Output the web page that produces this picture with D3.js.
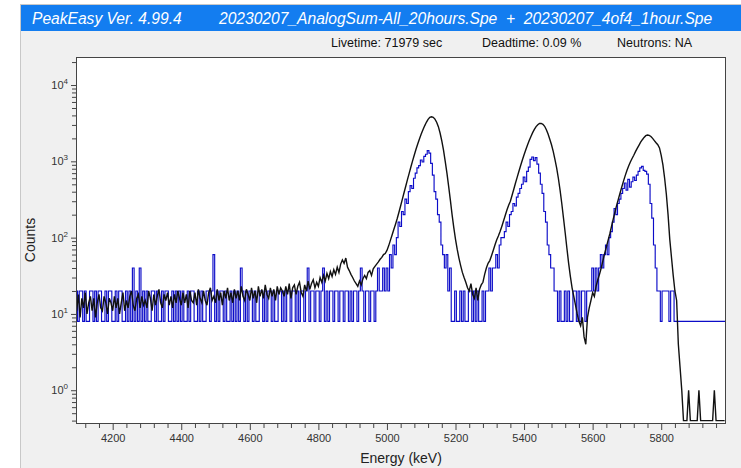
<!DOCTYPE html>
<head>
<meta charset="utf-8">
<title>PeakEasy spectrum</title>
<script type="text/javascript" src="https://d3js.org/d3.v7.min.js"></script>
<style>
  body { margin: 0; background: #fff; }
  svg { display: block; font-family: "Liberation Sans", Arial, sans-serif; }
</style>
</head>
<body>
<div id="container"></div>
<script>
//---------------------------DATA----------------------------//
// bins of 5 keV, first bin centred on 4095 keV
const eStart = 4095, eStep = 5;

// 20 hour sum spectrum, counts per bin (one row = 100 keV)
const blackCounts = [
  11,18,9,16,12,19,10,14,17,11,16,9,14,18,12,11,17,14,10,16,
  14,11,17,12,16,10,14,19,11,15,12,17,20,13,11,16,18,12,17,13,
  15,12,20,16,11,18,13,17,21,14,12,18,15,19,13,17,12,18,14,20,
  16,13,19,14,18,12,20,15,14,19,13,21,16,14,20,15,13,19,22,15,
  17,14,21,15,19,13,20,16,22,15,19,14,21,16,20,15,23,17,15,21,
  18,15,22,16,20,14,23,17,21,16,24,18,16,22,17,21,15,23,18,22,
  20,17,23,18,25,16,22,24,18,23,26,19,17,24,20,27,21,25,28,22,
  26,23,30,26,32,27,34,29,36,31,38,33,41,35,45,51,46,54,41,37,
  33,30,27,25,23,27,24,29,32,29,35,37,32,39,42,45,48,52,55,60,
  62,68,78,92,108,128,150,178,215,262,320,390,475,580,700,850,1020,1220,1450,1700,
  1980,2280,2600,2920,3250,3550,3780,3840,3780,3580,3250,2850,2350,1850,1400,1000,700,470,310,200,
  135,95,70,54,43,35,30,26,22,20,25,18,16,22,15,21,24,26,33,40,
  46,50,58,68,80,93,105,120,140,165,195,230,265,300,360,430,520,620,740,880,
  1040,1220,1420,1640,1870,2120,2380,2620,2850,3020,3130,3140,3060,2880,2600,2280,1950,1650,1350,1060,
  820,600,420,280,180,115,72,46,31,22,17,13,10,8,7,9,5,4,9,12,
  15,19,17,23,28,33,40,50,62,75,92,112,140,175,215,265,320,385,460,550,
  650,760,870,980,1090,1200,1340,1480,1620,1780,1920,2060,2170,2210,2190,2120,2000,1870,1750,1650,
  1500,1200,900,600,370,200,95,55,32,20,15,4,2,1,0,0,0,1,0,0,
  0,0,0,1,0,0,0,0,0,0,0,0,1,0,0,0,0,0,0
];

// 1 hour spectrum (4of4), raw counts per bin
const blueCounts = [
  1,0,1,1,0,1,0,0,1,1,0,1,0,1,1,0,0,1,0,1,
  1,0,0,1,0,1,1,0,0,1,0,1,0,2,0,1,0,2,0,1,
  0,1,0,0,1,1,0,1,0,0,1,0,1,1,0,0,1,0,1,0,
  1,0,1,0,0,1,0,1,1,0,0,1,0,1,0,0,1,1,0,1,
  3,0,1,0,1,1,0,1,0,0,1,0,1,0,1,0,2,1,0,1,
  0,1,1,0,1,0,0,1,1,0,1,0,1,1,0,1,0,0,1,1,
  0,1,0,1,1,0,1,1,0,1,0,1,1,0,1,2,0,1,1,0,
  1,1,0,1,2,0,1,0,1,1,0,1,1,0,1,1,0,1,1,0,
  1,0,1,1,0,1,2,1,0,1,1,0,1,1,0,1,2,1,1,2,
  1,2,1,3,2,4,3,5,8,7,11,10,16,14,20,24,22,30,35,41,
  44,52,49,58,62,69,64,47,33,20,16,10,8,4,3,2,3,1,2,0,
  0,1,0,0,1,0,1,0,0,1,1,0,1,0,1,0,0,1,0,1,
  1,2,1,2,2,3,2,4,5,5,6,8,7,10,11,14,13,17,19,22,
  25,31,27,37,42,53,57,51,56,46,35,25,19,11,8,4,3,2,2,1,
  1,0,1,0,0,1,0,1,0,0,1,1,0,1,0,1,1,0,1,1,
  1,2,1,2,1,2,3,2,3,4,3,5,6,8,12,10,14,16,19,22,
  26,21,29,23,27,31,28,33,37,41,43,38,37,34,25,14,9,4,2,1,
  1,0,1,1,1,1,0,1,1,0,0,0,0,0,0,0,0,0,0,0,
  0,0,0,0,0,0,0,0,0,0,0,0,0,0,0,0,0,0,0
];

const blueScale = 20;     // 1 hour spectrum scaled to the 20 hour one
const zeroLevel = 0.4;    // empty bins are drawn at this level

const xMajor = [4200, 4400, 4600, 4800, 5000, 5200, 5400, 5600, 5800];
const yDecades = [1, 10, 100, 1000, 10000];

const titleLeft = "PeakEasy Ver. 4.99.4";
const titleRight = "20230207_AnalogSum-All_20hours.Spe  +  20230207_4of4_1hour.Spe";
const infoItems = [
  {x: 331, text: "Livetime: 71979 sec"},
  {x: 482, text: "Deadtime: 0.09 %"},
  {x: 617, text: "Neutrons: NA"}
];

//---------------------------SVG-----------------------------//
const W = 741, H = 468;
const margin = {top: 57, left: 76, right: 15, bottom: 45};
const width = W - margin.left - margin.right,
      height = H - margin.top - margin.bottom;

const svg = d3.select("#container").append("svg")
    .attr("width", W)
    .attr("height", H);

// window background + title bar
svg.append("rect")
    .attr("x", 20.5).attr("y", 4.5)
    .attr("width", W - 20).attr("height", H)
    .attr("fill", "#f0f0f0")
    .attr("stroke", "#c8c8c8");

svg.append("rect")
    .attr("x", 21).attr("y", 5)
    .attr("width", W - 21).attr("height", 26)
    .attr("fill", "#137df0");

svg.append("text")
    .attr("x", 32).attr("y", 24)
    .attr("fill", "#fff")
    .attr("font-size", 15.6)
    .attr("font-style", "italic")
    .text(titleLeft);

svg.append("text")
    .attr("x", 219).attr("y", 24)
    .attr("fill", "#fff")
    .attr("font-size", 15.6)
    .attr("font-style", "italic")
    .style("white-space", "pre")
    .text(titleRight);

svg.selectAll(".info")
    .data(infoItems)
    .enter().append("text")
    .attr("class", "info")
    .attr("x", d => d.x).attr("y", 47)
    .attr("font-size", 12.5)
    .attr("fill", "#111")
    .text(d => d.text);

const g = svg.append("g")
    .attr("transform", "translate(" + margin.left + "," + margin.top + ")");

//--------------------------SCALES---------------------------//
const x = d3.scaleLinear().domain([4093, 5989]).range([0, width]);
const y = d3.scaleLog().domain([0.372, 23300]).range([height, 0]);

g.append("rect")
    .attr("width", width).attr("height", height)
    .attr("fill", "#fff");

g.append("clipPath").attr("id", "plotclip")
  .append("rect")
    .attr("width", width).attr("height", height);

//---------------------------LINES---------------------------//
const edges = blueCounts.map((c, i) => ({
    e: eStart + i * eStep - eStep / 2,
    v: c > 0 ? c * blueScale : zeroLevel * blueScale
}));
edges.push({e: eStart + blueCounts.length * eStep - eStep / 2, v: edges[edges.length - 1].v});

const stepLine = d3.line()
    .curve(d3.curveStepAfter)
    .x(d => x(d.e))
    .y(d => y(d.v));

g.append("path")
    .attr("clip-path", "url(#plotclip)")
    .attr("d", stepLine(edges))
    .attr("fill", "none")
    .attr("stroke", "#0c0cc8")
    .attr("stroke-width", 1.15);

const blackPts = blackCounts.map((c, i) => ({
    e: eStart + i * eStep,
    v: c > 0 ? c : zeroLevel
}));

const line = d3.line()
    .x(d => x(d.e))
    .y(d => y(d.v));

g.append("path")
    .attr("clip-path", "url(#plotclip)")
    .attr("d", line(blackPts))
    .attr("fill", "none")
    .attr("stroke", "#111")
    .attr("stroke-width", 1.4);

//---------------------------AXES----------------------------//
const xMinor = d3.range(4120, 5989, 40).filter(v => !xMajor.includes(v));

g.append("g")
    .attr("transform", "translate(0," + height + ")")
    .call(d3.axisBottom(x).tickValues(xMinor).tickSize(5).tickFormat(""))
    .call(a => a.select(".domain").remove());

g.append("g")
    .attr("transform", "translate(0," + height + ")")
    .call(d3.axisBottom(x).tickValues(xMajor).tickSize(7).tickPadding(4).tickFormat(d3.format("d")))
    .call(a => a.select(".domain").remove())
    .call(a => a.selectAll("text").attr("font-size", 11).attr("fill", "#333"));

const yMinor = [];
yDecades.forEach(d => { for (let k = 2; k <= 9; k++) if (d * k < 23300) yMinor.push(d * k); });
yMinor.push(0.4, 0.5, 0.6, 0.7, 0.8, 0.9);

g.append("g")
    .call(d3.axisLeft(y).tickValues(yMinor).tickSize(4).tickFormat(""))
    .call(a => a.select(".domain").remove());

g.append("g")
    .call(d3.axisLeft(y).tickValues(yDecades).tickSize(5).tickPadding(3).tickFormat(""))
    .call(a => a.select(".domain").remove())
    .call(a => a.selectAll(".tick text").each(function(d) {
        const t = d3.select(this).attr("font-size", 11).attr("fill", "#333");
        t.append("tspan").text("10");
        t.append("tspan").attr("dy", -5).attr("font-size", 8).text(Math.round(Math.log10(d)));
    }));

g.selectAll(".tick line").attr("stroke", "#444");

// frame
g.append("rect")
    .attr("x", 0.5).attr("y", 0.5)
    .attr("width", width - 1).attr("height", height)
    .attr("fill", "none")
    .attr("stroke", "#444");

//--------------------------LABELS---------------------------//
svg.append("text")
    .attr("x", margin.left + width / 2).attr("y", 463)
    .attr("text-anchor", "middle")
    .attr("font-size", 14)
    .attr("fill", "#222")
    .text("Energy (keV)");

svg.append("text")
    .attr("transform", "translate(35," + (margin.top + height / 2) + ") rotate(-90)")
    .attr("text-anchor", "middle")
    .attr("font-size", 14)
    .attr("fill", "#222")
    .text("Counts");
</script>
</body>
